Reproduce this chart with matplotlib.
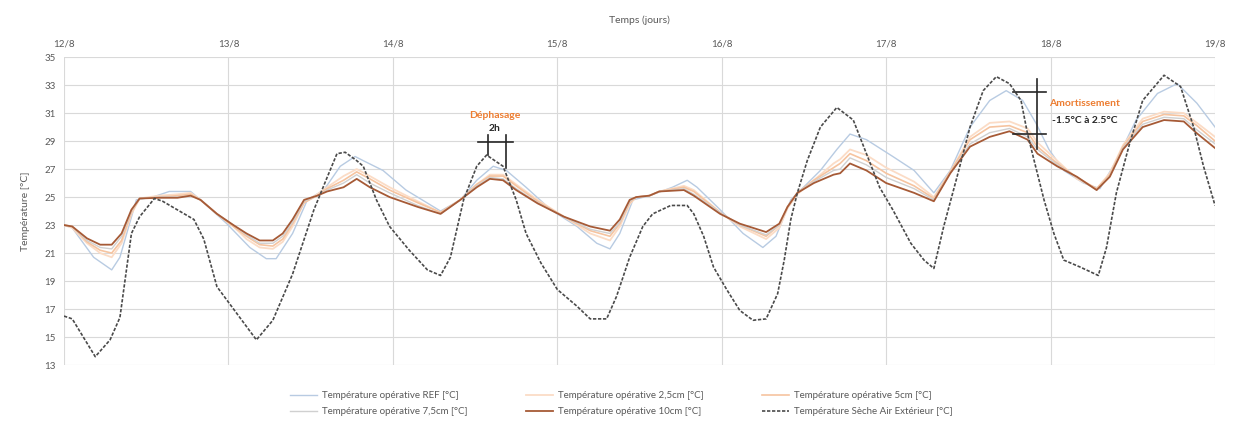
import matplotlib
matplotlib.use('Agg')
import matplotlib.pyplot as plt

plt.rcParams['font.family'] = ['Lato', 'DejaVu Sans']

GRIS_TEXTE = '#595959'
GRILLE = '#d9d9d9'
ORANGE = '#ed7d31'

# temps en jours depuis le 12/8 a 0h
jours_labels = ['12/8', '13/8', '14/8', '15/8', '16/8', '17/8', '18/8', '19/8']

# Temperature seche air exterieur
t_ext = [0, 0.05, 0.19, 0.28, 0.34, 0.41, 0.46, 0.55, 0.60, 0.79, 0.85, 0.93, 1.05, 1.17, 1.27,
         1.39, 1.52, 1.60, 1.66, 1.71, 1.78, 1.82, 1.90, 1.98, 2.10, 2.21, 2.29, 2.35, 2.43, 2.51,
         2.57, 2.67, 2.75, 2.81, 2.90, 3.00, 3.12, 3.20, 3.30, 3.36, 3.44, 3.52, 3.58, 3.69, 3.79,
         3.83, 3.89, 3.95, 4.03, 4.11, 4.19, 4.27, 4.34, 4.38, 4.42, 4.46, 4.52, 4.60, 4.70, 4.80,
         4.88, 4.96, 5.04, 5.15, 5.23, 5.29, 5.35, 5.43, 5.51, 5.59, 5.67, 5.75, 5.82, 5.86, 5.90,
         5.96, 6.02, 6.08, 6.18, 6.29, 6.34, 6.40, 6.48, 6.56, 6.69, 6.79, 6.87, 6.93, 7.00]
temp_ext = [16.5, 16.3, 13.6, 14.8, 16.4, 22.4, 23.6, 24.9, 24.7, 23.4, 22.0, 18.6, 16.7, 14.8, 16.2,
            19.5, 24.1, 26.4, 28.1, 28.2, 27.6, 27.2, 24.8, 22.9, 21.2, 19.8, 19.4, 20.7, 24.8, 27.2,
            28.0, 27.2, 24.8, 22.4, 20.3, 18.4, 17.2, 16.3, 16.3, 17.9, 20.7, 22.9, 23.8, 24.4, 24.4,
            23.8, 22.2, 20.0, 18.4, 16.9, 16.2, 16.3, 18.1, 20.5, 23.4, 25.3, 27.6, 30.0, 31.4, 30.5,
            28.1, 25.7, 24.1, 21.7, 20.5, 19.9, 22.9, 26.4, 30.0, 32.6, 33.6, 33.1, 31.9, 29.5, 27.6,
            24.8, 22.4, 20.5, 20.0, 19.4, 21.4, 25.3, 28.8, 31.9, 33.7, 32.9, 30.0, 27.2, 24.4]

# Temperature operative REF
t_ref = [0, 0.05, 0.18, 0.29, 0.34, 0.44, 0.54, 0.64, 0.77, 0.85, 0.99, 1.13, 1.23, 1.29, 1.39,
         1.48, 1.58, 1.68, 1.77, 1.82, 1.94, 2.08, 2.29, 2.41, 2.51, 2.61, 2.69, 2.81, 2.96, 3.12,
         3.24, 3.32, 3.38, 3.46, 3.56, 3.70, 3.79, 3.85, 3.99, 4.13, 4.25, 4.33, 4.42, 4.48, 4.60,
         4.70, 4.78, 4.88, 5.04, 5.17, 5.29, 5.39, 5.51, 5.63, 5.73, 5.83, 5.91, 5.99, 6.08, 6.20,
         6.30, 6.40, 6.52, 6.65, 6.77, 6.89, 7.00]
temp_ref = [23.0, 22.8, 20.7, 19.8, 20.7, 24.8, 25.0, 25.4, 25.4, 24.6, 23.1, 21.4, 20.6, 20.6, 22.4,
            24.8, 25.5, 27.2, 27.9, 27.6, 26.9, 25.5, 24.0, 24.8, 26.2, 27.2, 26.9, 25.7, 24.1, 22.9,
            21.7, 21.3, 22.4, 24.8, 25.1, 25.7, 26.2, 25.7, 24.1, 22.4, 21.4, 22.2, 24.8, 25.5, 26.9,
            28.4, 29.5, 29.1, 27.9, 26.9, 25.3, 26.9, 30.0, 31.9, 32.6, 31.9, 30.3, 28.4, 26.9, 26.0,
            25.6, 27.6, 30.5, 32.4, 33.1, 31.7, 30.0]

# Temperatures operatives des variantes (meme pas de temps)
t_var = [0, 0.05, 0.14, 0.22, 0.29, 0.35, 0.41, 0.46, 0.58, 0.69, 0.77, 0.83, 0.93, 1.03, 1.11,
         1.19, 1.27, 1.33, 1.39, 1.46, 1.54, 1.60, 1.70, 1.78, 1.86, 1.98, 2.15, 2.29, 2.41, 2.51,
         2.59, 2.67, 2.75, 2.88, 3.04, 3.20, 3.32, 3.38, 3.44, 3.48, 3.56, 3.62, 3.77, 3.83, 3.99,
         4.11, 4.27, 4.35, 4.40, 4.46, 4.56, 4.68, 4.72, 4.78, 4.88, 5.00, 5.17, 5.29, 5.39, 5.51,
         5.63, 5.75, 5.86, 5.92, 6.04, 6.16, 6.28, 6.36, 6.44, 6.56, 6.69, 6.81, 6.89, 7.00]
temp_2_5 = [23.0, 22.8, 21.7, 21.0, 20.7, 21.7, 23.8, 24.9, 25.1, 25.2, 25.3, 24.8, 23.8, 22.9, 22.0,
            21.4, 21.3, 21.8, 22.9, 24.6, 25.2, 25.7, 26.5, 27.0, 26.5, 25.7, 24.7, 23.9, 24.8, 25.9,
            26.6, 26.6, 25.9, 24.8, 23.6, 22.4, 21.9, 22.9, 24.5, 25.0, 25.1, 25.4, 25.8, 25.5, 23.9,
            22.9, 22.0, 22.8, 24.2, 25.2, 26.2, 27.4, 27.7, 28.4, 28.0, 27.1, 26.1, 25.0, 26.8, 29.3,
            30.3, 30.4, 29.9, 28.9, 27.6, 26.3, 25.6, 26.7, 28.7, 30.6, 31.1, 31.0, 30.3, 29.3]
temp_5 = [23.0, 22.9, 21.8, 21.2, 21.0, 21.9, 23.9, 24.9, 25.0, 25.1, 25.2, 24.8, 23.8, 22.9, 22.2,
          21.6, 21.5, 22.0, 23.1, 24.6, 25.1, 25.6, 26.2, 26.8, 26.3, 25.5, 24.6, 23.9, 24.8, 25.9,
          26.5, 26.5, 25.8, 24.7, 23.6, 22.6, 22.2, 23.1, 24.6, 25.0, 25.1, 25.4, 25.7, 25.4, 23.9,
          23.0, 22.2, 23.0, 24.3, 25.3, 26.2, 27.1, 27.4, 28.1, 27.6, 26.7, 25.8, 24.9, 26.8, 29.1,
          30.0, 30.1, 29.6, 28.6, 27.4, 26.4, 25.6, 26.6, 28.6, 30.4, 30.9, 30.8, 30.1, 29.0]
temp_7_5 = [23.0, 22.9, 21.9, 21.4, 21.3, 22.2, 24.0, 24.9, 25.0, 25.0, 25.1, 24.8, 23.8, 23.0, 22.3,
            21.7, 21.7, 22.2, 23.2, 24.7, 25.1, 25.5, 26.0, 26.6, 26.0, 25.3, 24.4, 23.8, 24.8, 25.8,
            26.4, 26.3, 25.6, 24.6, 23.6, 22.7, 22.4, 23.2, 24.7, 25.0, 25.1, 25.4, 25.6, 25.2, 23.9,
            23.0, 22.3, 23.0, 24.3, 25.3, 26.1, 26.9, 27.0, 27.8, 27.3, 26.4, 25.6, 24.8, 26.7, 28.8,
            29.6, 29.9, 29.3, 28.4, 27.3, 26.4, 25.5, 26.5, 28.5, 30.2, 30.7, 30.6, 29.8, 28.8]
temp_10 = [23.0, 22.9, 22.05, 21.6, 21.6, 22.4, 24.1, 24.9, 24.95, 24.95, 25.1, 24.8, 23.8, 23.0, 22.4,
           21.9, 21.9, 22.4, 23.4, 24.8, 25.1, 25.4, 25.7, 26.3, 25.7, 25.0, 24.3, 23.8, 24.8, 25.7,
           26.3, 26.2, 25.5, 24.55, 23.6, 22.9, 22.6, 23.4, 24.8, 25.0, 25.1, 25.4, 25.5, 25.1, 23.8,
           23.1, 22.5, 23.1, 24.3, 25.3, 26.0, 26.6, 26.7, 27.4, 26.9, 26.0, 25.3, 24.7, 26.7, 28.6,
           29.3, 29.7, 29.1, 28.1, 27.2, 26.45, 25.5, 26.45, 28.4, 30.0, 30.5, 30.4, 29.55, 28.5]

# annotations
dephasage_x = [2.58, 2.69]
amort_x = 5.92
amort_y = [32.5, 29.5]

fig = plt.figure(figsize=(12.43, 4.29), dpi=100)
ax = fig.add_axes([0.0515, 0.149, 0.926, 0.718])

l_ref, = ax.plot(t_ref, temp_ref, color='#b8cbe2', lw=1.0, label='Température opérative REF [°C]')
l25, = ax.plot(t_var, temp_2_5, color='#fbdcc6', lw=1.3, label='Température opérative 2,5cm [°C]')
l5, = ax.plot(t_var, temp_5, color='#f6c4a0', lw=1.2, label='Température opérative 5cm [°C]')
l75, = ax.plot(t_var, temp_7_5, color='#d0d0d0', lw=1.0, label='Température opérative 7,5cm [°C]')
l10, = ax.plot(t_var, temp_10, color='#a65a36', lw=1.3, label='Température opérative 10cm [°C]')
lext, = ax.plot(t_ext, temp_ext, color='#4a4a4a', lw=1.2, dashes=(2.0, 1.0),
                label='Température Sèche Air Extérieur [°C]')

# Dephasage
ax.plot([2.52, 2.73], [28.9, 28.9], color='#262626', lw=1.2)
ax.plot([dephasage_x[0]] * 2, [29.4, 28.0], color='#262626', lw=1.2)
ax.plot([dephasage_x[1]] * 2, [29.4, 27.1], color='#262626', lw=1.2)
ax.text(2.62, 30.8, 'Déphasage', color=ORANGE, fontsize=7.5, fontweight='bold', ha='center', va='center')
ax.text(2.62, 29.9, '2h', color='#262626', fontsize=7.5, fontweight='bold', ha='center', va='center')

# Amortissement
ax.plot([amort_x, amort_x], [33.4, 28.4], color='#262626', lw=1.2)
for y in amort_y:
    ax.plot([5.77, 5.97], [y, y], color='#262626', lw=1.2)
ax.text(5.99, 31.7, 'Amortissement', color=ORANGE, fontsize=7.5, fontweight='bold', va='center')
ax.text(6.01, 30.5, '-1.5°C à 2.5°C', color='#262626', fontsize=7.5, fontweight='bold', va='center')

ax.set_xlim(0, 7)
ax.set_ylim(13, 35)
ax.set_yticks(range(13, 36, 2))
ax.set_xticks(range(8))
ax.set_xticklabels(jours_labels)
ax.xaxis.tick_top()
ax.xaxis.set_label_position('top')
ax.set_xlabel('Temps (jours)', fontsize=7.5, color=GRIS_TEXTE, labelpad=12)
ax.set_ylabel('Température [°C]', fontsize=7.5, color=GRIS_TEXTE, labelpad=10)
ax.tick_params(length=0, labelsize=7, colors=GRIS_TEXTE, pad=6)
ax.grid(color=GRILLE, linewidth=0.8)
ax.set_axisbelow(True)
for s in ax.spines.values():
    s.set_visible(False)

# ordre colonnes pour obtenir 2 lignes x 3
handles = [l_ref, l75, l25, l10, l5, lext]
fig.legend(handles=handles, labels=[h.get_label() for h in handles], ncol=3, loc='lower center',
           bbox_to_anchor=(0.5, 0.01), frameon=False, fontsize=7, labelcolor=GRIS_TEXTE,
           handlelength=2.8, columnspacing=6.0, handletextpad=0.5, labelspacing=0.7)

fig.savefig('out.png', dpi=100)
